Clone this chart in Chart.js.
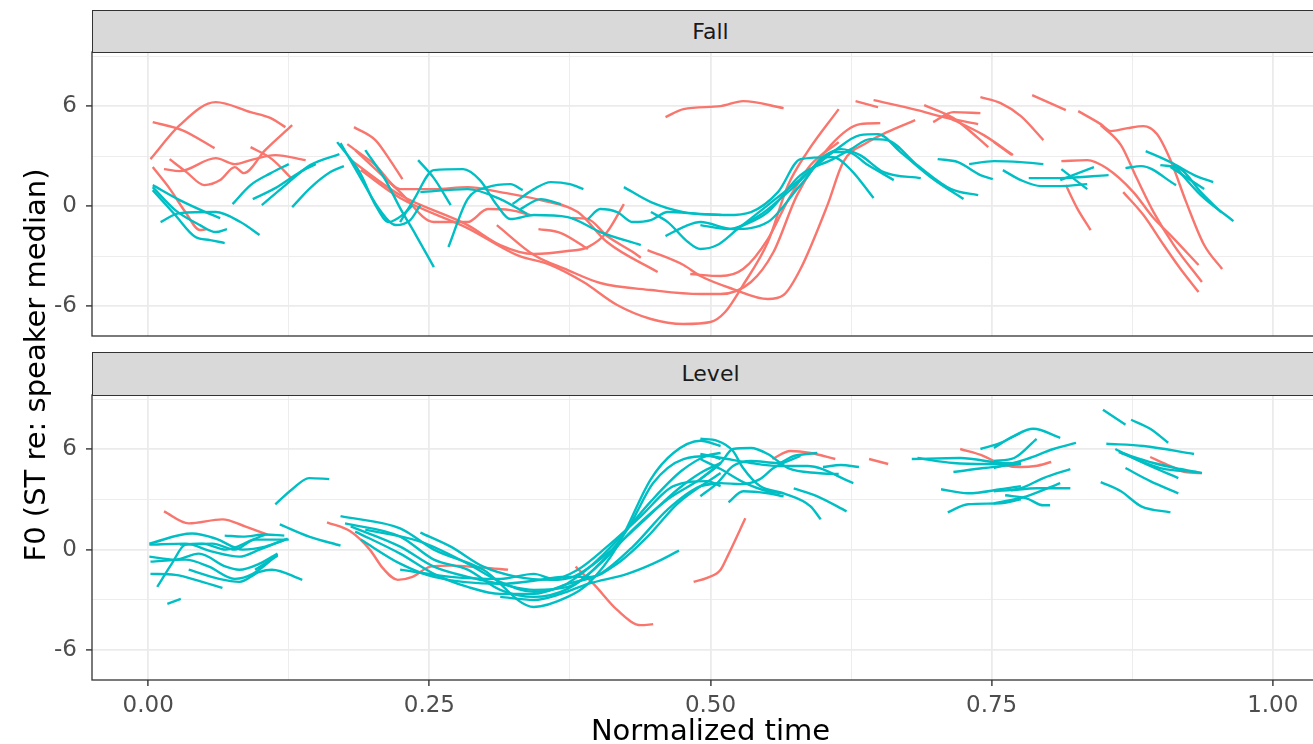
<!DOCTYPE html>
<html>
<head>
<meta charset="utf-8">
<title>F0 contours</title>
<script src="https://cdn.jsdelivr.net/npm/chart.js@4.4.1/dist/chart.umd.min.js"></script>
<style>
  html, body { margin: 0; padding: 0; background: #fff; }
  body { width: 1313px; height: 744px; overflow: hidden; position: relative; font-family: "DejaVu Sans", sans-serif; }
  canvas { position: absolute; left: 0; }
  .strip { position: absolute; left: 92px; width: 1237px; background: #D9D9D9; border: 1.3px solid #333; box-sizing: border-box; color: #1A1A1A; font-size: 22px; text-align: center; }
  #yTitle { position: absolute; left: -265px; top: 348px; width: 600px; text-align: center; font-size: 29px; color: #000; transform: rotate(-90deg); white-space: nowrap; }
</style>
</head>
<body>
<canvas id="fall-chart" width="1340" height="286" style="top:51px"></canvas>
<canvas id="level-chart" width="1340" height="350" style="top:394px"></canvas>
<div class="strip" style="top:10px;height:43px;line-height:41px">Fall</div>
<div class="strip" style="top:352px;height:44px;line-height:42px">Level</div>
<div id="yTitle">F0 (ST re: speaker median)</div>
<script>
// Eixos
const xTickValues = [0, 0.125, 0.25, 0.375, 0.5, 0.625, 0.75, 0.875, 1];
const xTickLabels = ['0.00', '', '0.25', '', '0.50', '', '0.75', '', '1.00'];
const yTickValues = [-6, -3, 0, 3, 6, 9];
const yTickLabels = ['-6', '', '0', '', '6', ''];

// Curvas [tempo normalizado, F0] - painel Fall
const fallRedCurves = [
    [[.002,2.82],[.028,4.86],[.060,6.24],[.091,5.64],[.109,5.28],[.122,4.74]],
    [[.004,5.04],[.030,4.56],[.059,3.48]],
    [[.019,2.82],[.034,2.04],[.050,1.26],[.064,1.56],[.077,2.34],[.085,1.98],[.104,3.36],[.128,4.86]],
    [[.014,2.22],[.028,2.10],[.060,2.88],[.077,2.52],[.091,2.76],[.113,3.06],[.140,2.76]],
    [[.091,3.54],[.110,2.82],[.128,1.62]],
    [[.004,2.34],[.020,0.96],[.033,-0.36],[.046,-1.44],[.052,-1.38]],
    [[.183,4.74],[.202,3.96],[.215,2.76],[.226,1.62]],
    [[.177,3.72],[.202,2.46],[.224,1.02],[.254,1.02],[.284,1.14],[.313,0.84],[.349,0.36],[.382,-0.36],[.408,-2.16],[.453,-3.96]],
    [[.184,3.36],[.224,0.84],[.254,-0.96],[.284,-0.96],[.302,-0.18],[.322,-0.24],[.340,-0.54]],
    [[.180,2.76],[.224,0.66],[.284,-1.14],[.313,-2.34],[.343,-2.88],[.373,-2.70],[.391,-2.46],[.408,-1.56],[.423,0.12]],
    [[.189,2.16],[.224,0.48],[.284,-1.32],[.328,-2.94],[.358,-3.54],[.387,-4.56],[.417,-5.94],[.447,-6.78],[.476,-7.08],[.500,-6.96],[.513,-6.36],[.529,-4.74],[.551,-2.16],[.569,1.26],[.586,3.24],[.614,5.82]],
    [[.310,-1.14],[.343,-2.94],[.373,-3.84],[.402,-4.62],[.447,-5.04],[.491,-5.28],[.509,-5.28],[.536,-4.56],[.556,-2.76],[.577,0.66],[.607,3.66],[.633,4.92],[.651,4.98]],
    [[.347,-1.38],[.367,-1.62],[.391,-2.58]],
    [[.377,-0.72],[.391,-0.78],[.408,-1.80],[.431,-2.76],[.438,-3.10]],
    [[.444,-2.64],[.476,-3.54],[.491,-4.20],[.520,-4.98],[.551,-5.58],[.565,-5.34],[.580,-3.78],[.604,0.06],[.618,2.64],[.640,3.84],[.657,4.44],[.682,5.16]],
    [[.482,-4.08],[.509,-4.20],[.529,-3.78],[.551,-1.98],[.569,0.36],[.589,2.46],[.614,3.84]],
    [[.460,5.34],[.476,5.82],[.509,6.00],[.529,6.30],[.565,5.88]],
    [[.629,6.30],[.649,5.94]],
    [[.645,6.36],[.684,5.76],[.707,5.34],[.738,4.92]],
    [[.690,6.06],[.716,5.28],[.738,4.08],[.747,3.54]],
    [[.698,5.04],[.716,5.64],[.740,5.58]],
    [[.707,5.46],[.743,4.26],[.769,3.06]],
    [[.740,6.54],[.758,6.18],[.776,5.40],[.796,3.96]],
    [[.752,3.84],[.768,3.06]],
    [[.786,6.66],[.816,5.76]],
    [[.827,5.70],[.847,4.92],[.856,4.50],[.871,4.68],[.885,4.80],[.897,4.32],[.909,2.76],[.923,0.24],[.939,-2.34],[.955,-3.78]],
    [[.847,4.86],[.865,3.66],[.879,1.68],[.894,-0.36],[.912,-2.34],[.937,-4.56]],
    [[.812,2.70],[.835,2.76],[.852,2.28],[.876,0.84],[.894,-0.72],[.909,-1.74],[.934,-3.54]],
    [[.867,0.84],[.885,-0.54],[.903,-2.34],[.918,-3.78],[.934,-5.16]],
    [[.816,1.26],[.826,-0.12],[.838,-1.44]]
];

const fallBlueCurves = [
    [[.004,1.26],[.028,0.36],[.051,-0.36],[.064,-0.72]],
    [[.004,1.14],[.024,-0.24],[.046,-1.14],[.060,-1.56],[.070,-1.38]],
    [[.004,0.96],[.024,-0.54],[.042,-1.86],[.055,-2.04],[.068,-2.22]],
    [[.011,-0.96],[.028,-0.42],[.060,-0.36],[.082,-0.96],[.099,-1.74]],
    [[.075,0.12],[.091,1.26],[.109,1.98],[.125,2.52]],
    [[.093,0.42],[.113,1.08],[.135,2.04],[.149,2.52]],
    [[.101,0.06],[.122,1.26],[.144,2.46],[.170,3.12]],
    [[.128,-0.06],[.144,1.08],[.162,2.04],[.174,2.40]],
    [[.168,3.84],[.188,2.04],[.202,0.06],[.214,-0.96],[.226,-0.54],[.235,0.06]],
    [[.171,3.78],[.190,1.56],[.206,-0.24],[.220,-1.14],[.233,-0.84],[.242,0.06]],
    [[.193,3.36],[.211,1.56],[.224,-0.12],[.238,-1.74],[.254,-3.66]],
    [[.240,2.76],[.254,1.68],[.269,0.06]],
    [[.224,-0.96],[.236,0.36],[.254,2.16],[.280,2.22],[.295,1.56],[.310,0.06],[.322,-0.78],[.343,-0.54],[.373,-0.66],[.402,-1.56],[.438,-2.34]],
    [[.267,-2.46],[.284,0.42],[.302,1.14],[.322,1.32],[.333,0.96]],
    [[.242,0.84],[.284,1.02],[.313,0.42],[.337,-0.48]],
    [[.324,0.12],[.343,1.02],[.358,1.44],[.375,1.32],[.387,1.02]],
    [[.331,-0.18],[.349,0.42],[.367,0.12]],
    [[.391,-0.78],[.402,-0.18],[.417,-0.36],[.431,-0.96],[.447,-0.84],[.462,-0.36],[.491,-0.48],[.515,-0.54],[.536,-0.36],[.560,0.84],[.580,2.82],[.609,2.94],[.625,2.16],[.645,0.48]],
    [[.423,1.14],[.447,0.24],[.476,-0.36],[.509,-0.54]],
    [[.447,-0.36],[.462,-0.96],[.480,-2.16],[.491,-2.58],[.506,-2.34],[.524,-1.38],[.551,0.06],[.580,1.62],[.609,3.24],[.633,4.26],[.649,4.32],[.669,3.24],[.698,1.62],[.725,0.42]],
    [[.460,-1.80],[.478,-1.20],[.491,-0.96],[.520,-1.38],[.551,-0.96],[.580,1.26],[.609,3.24],[.622,3.24],[.640,2.46],[.663,1.56]],
    [[.522,-1.38],[.551,-0.36],[.580,1.86],[.609,2.82],[.625,3.42],[.642,4.02],[.657,3.96],[.684,2.46],[.714,1.02],[.738,0.66]],
    [[.491,-1.14],[.515,-1.38],[.544,-0.54],[.571,0.96],[.616,3.42],[.633,3.06],[.654,2.04],[.687,1.68]],
    [[.702,2.82],[.720,2.64],[.740,1.86],[.751,1.62]],
    [[.730,2.52],[.752,2.70],[.776,2.64],[.796,2.52]],
    [[.760,2.16],[.776,1.56],[.794,1.20],[.811,1.20],[.835,1.32]],
    [[.783,1.68],[.811,1.68],[.854,1.86]],
    [[.812,2.22],[.835,1.02]],
    [[.811,1.56],[.841,2.34]],
    [[.869,2.28],[.883,2.40],[.914,1.26]],
    [[.887,3.30],[.909,2.64],[.930,1.86],[.947,1.44]],
    [[.900,2.46],[.918,2.22],[.936,0.84],[.954,-0.36]],
    [[.912,2.46],[.936,0.66],[.965,-0.90]],
    [[.909,2.34],[.939,1.02]]
];

// Curvas - painel Level
const levelRedCurves = [
    [[.014,2.29],[.036,1.57],[.066,1.81],[.086,1.39],[.106,0.90]],
    [[.159,1.63],[.180,1.08],[.197,0],[.209,-1.14],[.222,-1.81],[.235,-1.63],[.251,-1.02],[.269,-0.96],[.298,-1.08],[.320,-1.20]],
    [[.380,-1.02],[.396,-2.05],[.417,-3.61],[.438,-4.52],[.449,-4.46]],
    [[.485,-1.93],[.497,-1.69],[.509,-1.20],[.515,-0.42],[.531,1.87]],
    [[.555,5.42],[.571,5.90],[.589,5.78],[.611,5.42]],
    [[.641,5.42],[.658,5.12]],
    [[.722,6.02],[.743,5.60],[.758,5.12],[.776,4.94],[.789,5.00],[.803,5.24]],
    [[.891,5.54],[.909,5.00],[.922,4.64],[.937,4.58]]
];

const levelBlueCurves = [
    [[.001,0.36],[.039,0.96],[.060,0.66],[.084,0],[.104,0.18],[.124,0.66]],
    [[.001,0.30],[.033,0.36],[.057,-0.12],[.081,-0.42],[.099,0],[.122,0.60]],
    [[.001,-0.42],[.024,-0.60],[.045,-0.24],[.069,-1.02],[.081,-1.20],[.099,-0.84],[.115,-0.24]],
    [[.002,-0.72],[.033,-0.60],[.054,-1.02],[.077,-1.75],[.093,-1.45],[.115,-0.30]],
    [[.002,-1.45],[.024,-1.51],[.048,-1.93],[.066,-2.29]],
    [[.008,-2.23],[.021,-0.84],[.033,0.30],[.048,0.36],[.069,0],[.093,0.60],[.104,0.90]],
    [[.068,0.84],[.084,0.78],[.104,0.90],[.121,0.84]],
    [[.028,0.30],[.057,0.36],[.077,0],[.095,0.60],[.125,0.60]],
    [[.036,-1.20],[.063,-1.75],[.081,-1.93],[.099,-1.33],[.110,-1.20],[.137,-1.81]],
    [[.095,-1.20],[.115,-0.36]],
    [[.017,-3.25],[.029,-2.95]],
    [[.113,2.71],[.128,3.61],[.143,4.28],[.161,4.22]],
    [[.117,1.51],[.143,0.78],[.171,0.24]],
    [[.171,2.00],[.224,1.27],[.254,0],[.298,-1.20],[.343,-3.43],[.373,-2.83],[.391,-2.05],[.417,0.18],[.447,4.22],[.467,5.78],[.491,6.51],[.509,6.20]],
    [[.175,1.57],[.224,0.78],[.254,-0.60],[.284,-1.20],[.313,-2.41],[.343,-2.83],[.373,-2.35],[.396,-1.20],[.426,1.20],[.449,3.98],[.476,5.42],[.500,5.60],[.509,5.42]],
    [[.242,1.02],[.269,0.18],[.298,-1.02],[.328,-1.63],[.358,-1.81],[.378,-1.63],[.408,-0.24],[.438,1.57],[.471,3.61],[.491,4.58],[.509,5.18]],
    [[.180,1.39],[.224,0.18],[.254,-1.02],[.284,-1.63],[.313,-2.05],[.343,-2.41],[.373,-2.23],[.402,-0.84],[.431,1.20],[.462,3.01],[.491,4.22],[.509,5.18]],
    [[.184,1.08],[.224,-0.24],[.254,-1.45],[.284,-2.23],[.313,-2.65],[.343,-2.65],[.373,-2.05],[.402,-1.45],[.431,0.18],[.462,2.41],[.491,3.80],[.509,3.98]],
    [[.189,0.60],[.224,-0.84],[.254,-1.63],[.313,-2.05],[.349,-1.81],[.367,-1.63],[.393,-1.63],[.417,-0.84],[.444,0.78],[.471,2.77],[.509,4.58]],
    [[.313,-2.83],[.343,-3.01],[.367,-2.65],[.391,-2.05],[.426,-1.45],[.449,-0.84],[.472,-0.06]],
    [[.224,-1.20],[.269,-1.63],[.313,-1.75],[.343,-1.45],[.360,-1.75],[.382,-1.20],[.408,0.18],[.438,1.99],[.467,3.80],[.497,4.10],[.509,3.80]],
    [[.193,1.20],[.242,0.48],[.284,-0.84],[.313,-1.93],[.343,-2.53],[.367,-2.23],[.393,-1.02],[.420,0.78],[.447,2.89],[.474,4.70],[.496,5.60],[.509,5.78]],
    [[.491,6.63],[.506,6.51],[.520,5.90],[.529,4.88],[.544,3.80],[.565,3.37],[.589,2.59],[.598,1.81]],
    [[.491,5.72],[.515,5.42],[.536,5.18],[.560,5.00],[.586,5.00],[.627,3.98]],
    [[.491,4.22],[.509,5.18],[.520,6.02],[.536,6.08],[.551,5.72],[.569,4.88],[.595,4.58],[.614,4.52]],
    [[.491,3.19],[.506,3.98],[.520,5.00],[.536,5.30],[.560,5.18],[.574,5.60],[.595,5.78]],
    [[.491,3.80],[.509,3.98],[.527,3.92],[.544,4.22],[.556,4.88],[.580,5.60]],
    [[.516,2.83],[.529,3.49],[.551,3.37],[.565,3.19]],
    [[.574,3.67],[.595,3.19],[.621,2.29]],
    [[.600,4.94],[.616,5.06],[.632,4.94]],
    [[.491,5.42],[.509,4.82],[.529,4.04],[.551,3.49],[.565,3.37]],
    [[.679,5.42],[.722,5.48],[.758,5.18],[.776,5.12]],
    [[.684,5.48],[.716,5.18],[.746,5.12],[.776,5.18]],
    [[.716,4.64],[.743,4.88],[.776,5.12]],
    [[.705,3.61],[.729,3.37],[.758,3.61],[.776,3.80]],
    [[.711,2.23],[.729,2.71],[.758,2.77],[.776,3.01]],
    [[.740,6.02],[.758,6.39],[.776,6.99]],
    [[.752,6.08],[.770,6.81],[.787,7.23],[.811,6.69]],
    [[.752,5.30],[.770,5.48],[.790,6.63]],
    [[.752,4.88],[.781,5.42],[.805,6.02],[.825,6.39]],
    [[.752,3.49],[.776,3.67],[.796,4.28],[.820,4.82]],
    [[.752,2.77],[.781,3.19],[.811,3.98]],
    [[.762,3.25],[.781,3.07],[.796,2.65],[.802,2.65]],
    [[.767,3.55],[.790,3.67],[.820,3.67]],
    [[.849,8.37],[.869,7.47]],
    [[.874,7.77],[.891,7.23],[.907,6.39]],
    [[.852,6.33],[.885,6.20],[.930,5.72]],
    [[.860,6.02],[.885,5.18],[.916,4.28]],
    [[.865,5.78],[.900,4.88],[.932,4.64]],
    [[.863,5.84],[.894,5.18],[.918,4.82],[.937,4.58]],
    [[.869,4.88],[.891,4.10],[.916,3.37]],
    [[.847,4.04],[.865,3.49],[.883,2.59],[.909,2.23]]
];

const RED = '#F8766D';
const TEAL = '#00BFC4';
const GRID = '#EBEBEB';
const INK = '#333333';

// Borda do painel (estilo theme_bw)
const panelBorder = {
    id: 'panelBorder',
    afterDraw(chart) {
        const { ctx, chartArea: a } = chart;
        ctx.save();
        ctx.strokeStyle = INK;
        ctx.lineWidth = 1.3;
        ctx.strokeRect(a.left, a.top, a.right - a.left, a.bottom - a.top);
        ctx.restore();
    }
};

function curveSets(curves, colour) {
    return curves.map(pts => ({
        data: pts,
        borderColor: colour,
        borderWidth: 2.4,
        pointRadius: 0,
        fill: false,
        cubicInterpolationMode: 'monotone'
    }));
}

function createPanel(id, redCurves, blueCurves, showX) {
    const ctx = document.getElementById(id).getContext('2d');
    return new Chart(ctx, {
        type: 'line',
        data: {
            datasets: curveSets(blueCurves, TEAL).concat(curveSets(redCurves, RED))
        },
        options: {
            responsive: false,
            animation: false,
            events: [],
            layout: { padding: { left: 0, right: 11, top: 1, bottom: showX ? 0 : 1 } },
            plugins: {
                legend: { display: false },
                tooltip: { enabled: false }
            },
            scales: {
                x: {
                    type: 'linear',
                    min: -0.05,
                    max: 1.05,
                    afterBuildTicks: scale => { scale.ticks = xTickValues.map(v => ({ value: v })); },
                    afterFit: scale => {
                        scale.height = showX ? 64 : 0;
                        scale.paddingLeft = 0;
                        scale.paddingRight = 0;
                    },
                    border: { display: false },
                    grid: {
                        color: GRID,
                        lineWidth: c => xTickLabels[c.index] ? 1.8 : 0.9,
                        drawTicks: showX,
                        tickLength: 6,
                        tickColor: c => xTickLabels[c.index] ? INK : 'rgba(0,0,0,0)',
                        tickWidth: 1.4
                    },
                    ticks: {
                        display: showX,
                        maxRotation: 0,
                        autoSkip: false,
                        padding: 6,
                        color: '#4D4D4D',
                        font: { family: 'DejaVu Sans', size: 23 },
                        callback: (v, i) => xTickLabels[i]
                    },
                    title: {
                        display: showX,
                        text: 'Normalized time',
                        color: '#000',
                        font: { family: 'DejaVu Sans', size: 29, lineHeight: 0.8 },
                        padding: 0
                    }
                },
                y: {
                    type: 'linear',
                    min: -7.8,
                    max: 9.25,
                    afterBuildTicks: scale => { scale.ticks = yTickValues.map(v => ({ value: v })); },
                    afterFit: scale => {
                        scale.width = 92;
                        scale.paddingTop = 0;
                        scale.paddingBottom = 0;
                    },
                    border: { display: false },
                    grid: {
                        color: GRID,
                        lineWidth: c => yTickLabels[c.index] ? 1.8 : 0.9,
                        tickLength: 6,
                        tickColor: c => yTickLabels[c.index] ? INK : 'rgba(0,0,0,0)',
                        tickWidth: 1.4
                    },
                    ticks: {
                        padding: 9,
                        color: '#4D4D4D',
                        font: { family: 'DejaVu Sans', size: 23 },
                        callback: (v, i) => yTickLabels[i]
                    }
                }
            }
        },
        plugins: [panelBorder]
    });
}

createPanel('fall-chart', fallRedCurves, fallBlueCurves, false);
createPanel('level-chart', levelRedCurves, levelBlueCurves, true);
</script>
</body>
</html>
